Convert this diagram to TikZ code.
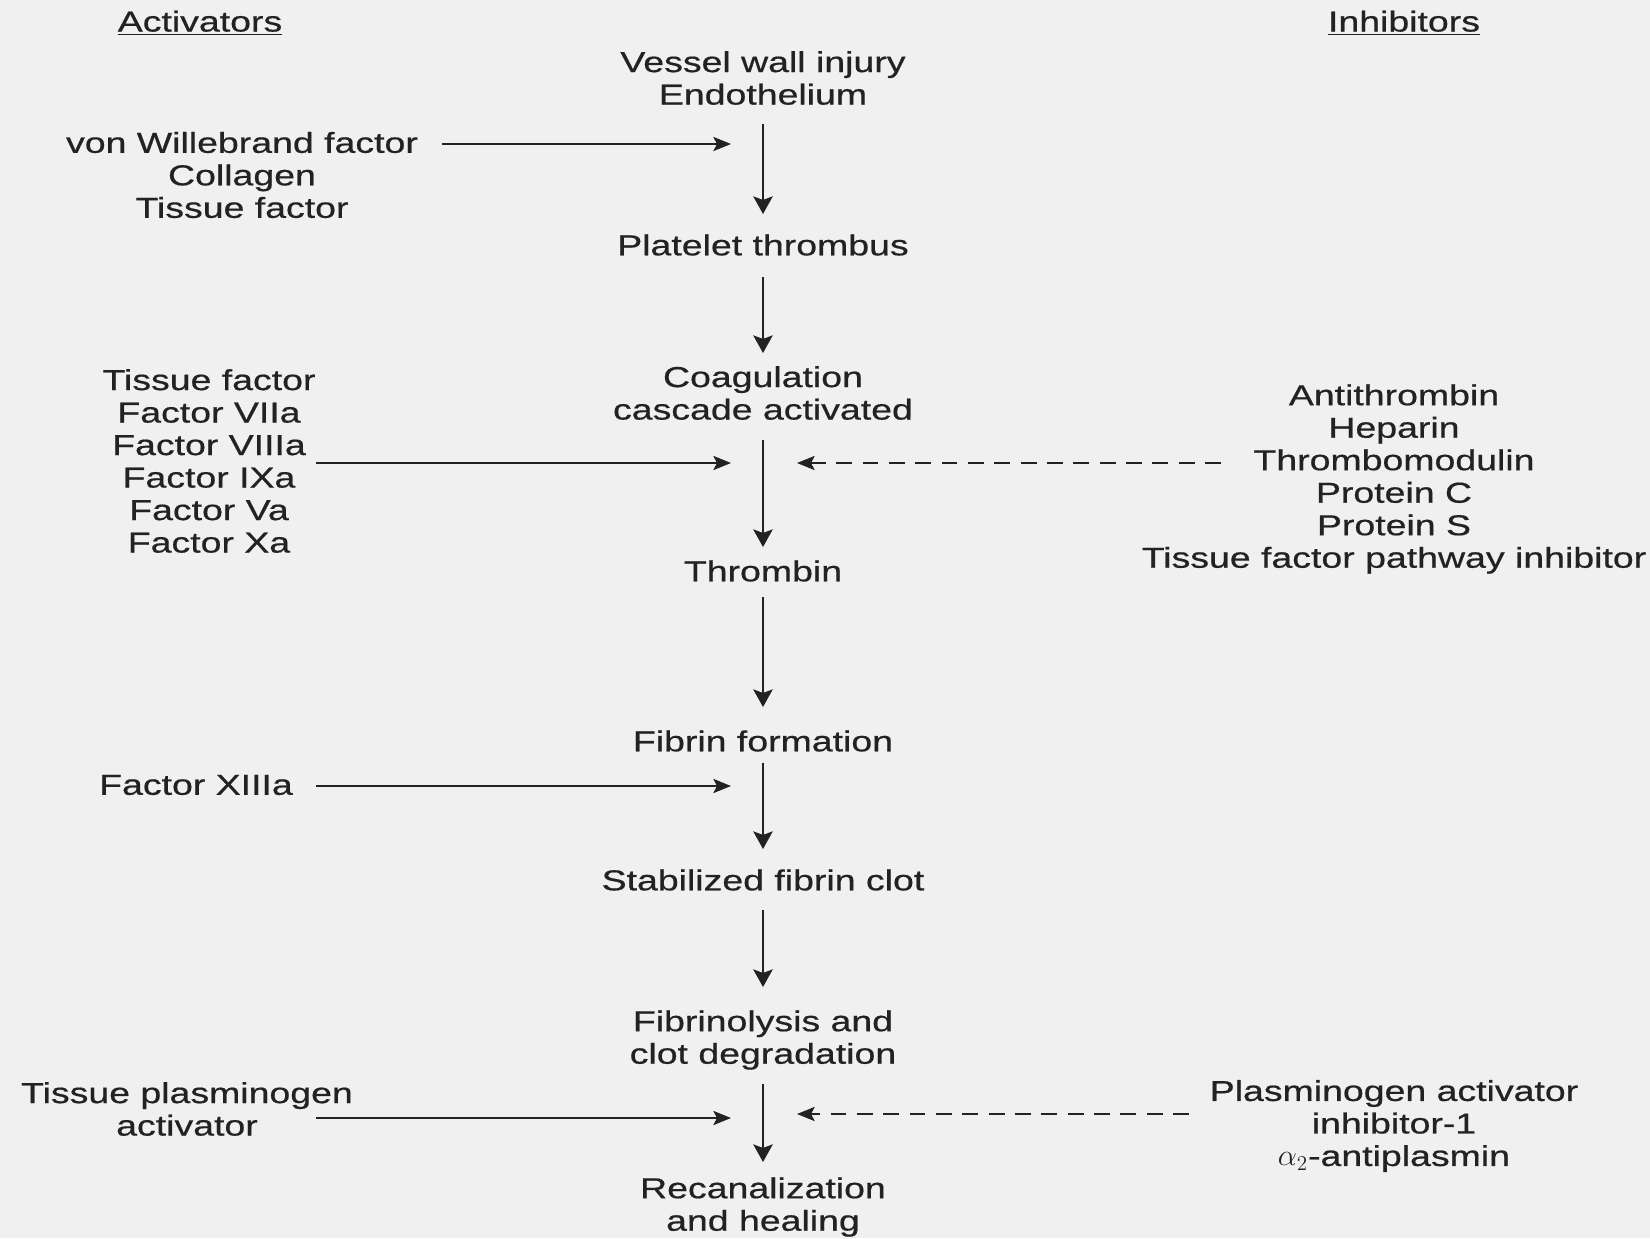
\documentclass[tikz,border=0pt]{standalone}
\usepackage{fontspec}
\setmainfont{Liberation Sans}[FakeStretch=1.3, FakeBold=0.6]
\usetikzlibrary{arrows.meta}

\definecolor{paper}{HTML}{F0F0F0}
\definecolor{ink}{HTML}{222222}

\tikzstyle{stage}=[align=center, inner sep=0pt, outer sep=0pt, text=ink, font=\fontsize{16.4}{18.5}\selectfont]
\tikzstyle{actlist}=[align=center, inner sep=0pt, text=ink, font=\fontsize{16.4}{18.5}\selectfont]
\tikzstyle{inhlist}=[align=center, inner sep=0pt, text=ink, font=\fontsize{16.4}{18.5}\selectfont]
\tikzstyle{flow}=[line width=1.4pt, draw=ink, -{Stealth[length=10pt, width=11pt, inset=2pt]}]
\tikzstyle{act}=[line width=1.3pt, draw=ink, -{Stealth[length=10pt, width=8pt, inset=2pt]}]
\tikzstyle{inh}=[line width=1.3pt, draw=ink, dash pattern=on 9pt off 6pt, -{Stealth[length=10pt, width=8pt, inset=2pt]}]

\begin{document}
\begin{tikzpicture}[x=0.02cm, y=-0.02cm]
      \fill[paper] (0,0) rectangle (1650,1238);
      \useasboundingbox (0,0) rectangle (1650,1238);

      % headings
      \node[actlist] (acthead) at (200, 23) {\underline{Activators}};
      \node[inhlist] (inhhead) at (1404, 23) {\underline{Inhibitors}};

      % main pathway
      \node[stage] (injury) at (763, 78) {Vessel wall injury\\Endothelium};
      \node[stage] (platelet) at (763, 245) {Platelet thrombus};
      \node[stage] (cascade) at (763, 393) {Coagulation\\cascade activated};
      \node[stage] (thrombin) at (763, 571) {Thrombin};
      \node[stage] (fibrin) at (763, 741) {Fibrin formation};
      \node[stage] (clot) at (763, 880) {Stabilized fibrin clot};
      \node[stage] (lysis) at (763, 1040) {Fibrinolysis and\\clot degradation};
      \node[stage] (healing) at (763, 1207) {Recanalization\\and healing};

      \draw[flow] (injury) ++(0, 46) coordinate (f1a) -- (763, 214) coordinate (f1b);
      \draw[flow] (763, 277) coordinate (f2a) -- (763, 353) coordinate (f2b);
      \draw[flow] (763, 440) coordinate (f3a) -- (763, 547) coordinate (f3b);
      \draw[flow] (763, 597) coordinate (f4a) -- (763, 707) coordinate (f4b);
      \draw[flow] (763, 763) coordinate (f5a) -- (763, 849) coordinate (f5b);
      \draw[flow] (763, 910) coordinate (f6a) -- (763, 987) coordinate (f6b);
      \draw[flow] (763, 1084) coordinate (f7a) -- (763, 1162) coordinate (f7b);

      % activators
      \node[actlist] (act1) at (242, 175) {von Willebrand factor\\Collagen\\Tissue factor};
      \node[actlist] (act2) at (209, 461) {Tissue factor\\Factor VIIa\\Factor VIIIa\\Factor IXa\\Factor Va\\Factor Xa};
      \node[actlist] (act3) at (196, 785) {Factor XIIIa};
      \node[actlist] (act4) at (187, 1109) {Tissue plasminogen\\activator};

      \coordinate (a1) at (731, 144);
      \coordinate (a2) at (731, 463);
      \coordinate (a3) at (731, 786);
      \coordinate (a4) at (731, 1118);
      \draw[act] (442, 144) -- (a1);
      \draw[act] (316, 463) -- (a2);
      \draw[act] (316, 786) -- (a3);
      \draw[act] (316, 1118) -- (a4);

      % inhibitors
      \node[inhlist] (inh1) at (1394, 479) {Antithrombin\\Heparin\\Thrombomodulin\\Protein C\\Protein S\\Tissue factor pathway inhibitor};
      \node[inhlist] (inh2) at (1394, 1126) {Plasminogen activator\\inhibitor-1\\$\alpha_2$-antiplasmin};

      \coordinate (i1) at (797, 463);
      \coordinate (i2) at (797, 1114);
      \draw[inh] (1221, 463) -- (i1);
      \draw[inh] (1189, 1114) -- (i2);
    \end{tikzpicture}
\end{document}
